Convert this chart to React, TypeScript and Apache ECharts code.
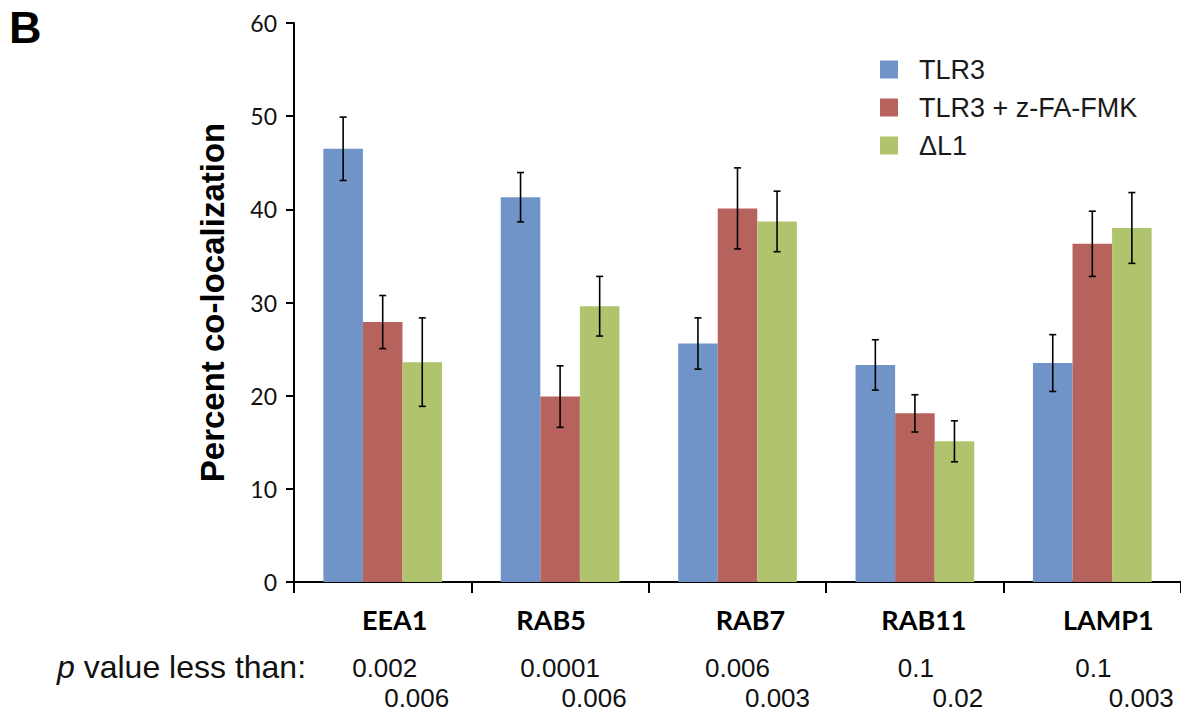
import React, { useEffect, useRef } from "react";
import * as echarts from "echarts";

const categories = ["EEA1", "RAB5", "RAB7", "RAB11", "LAMP1"];
const seriesNames = ["TLR3", "TLR3 + z-FA-FMK", "\u0394L1"];
const tlr3 = [46.5, 41.3, 25.6, 23.3, 23.5];
const tlr3Err = [3.4, 2.65, 2.75, 2.7, 3.05];
const tlr3Fmk = [27.9, 19.9, 40.1, 18.1, 36.3];
const tlr3FmkErr = [2.85, 3.3, 4.35, 2.0, 3.5];
const deltaL1 = [23.6, 29.6, 38.7, 15.1, 38.0];
const deltaL1Err = [4.75, 3.2, 3.25, 2.2, 3.8];
const pValueRow1 = ["0.002", "0.0001", "0.006", "0.1", "0.1"];
const pValueRow2 = ["0.006", "0.006", "0.003", "0.02", "0.003"];
const yTicks = { min: 0, max: 60, interval: 10 };

// layout (not data)
const catLabelShift = [12, -9, 13, 9, 16];
const row1Shift = [2, 0, 0, 1, 1];
const row2Shift = [34, 34, 40, 43, 49];

const colors = ["#7194c8", "#b7635d", "#b0c46d"];
const BAR_FRAC = 0.223;
const CAP = 3.5;

export default function App() {
  const ref = useRef<HTMLDivElement>(null);
  useEffect(() => {
    const el = ref.current!;
    const chart = echarts.init(el, null, { renderer: "svg" });
    const values = [tlr3, tlr3Fmk, deltaL1];
    const errs = [tlr3Err, tlr3FmkErr, deltaL1Err];

    const barSeries = values.map((v, s) => ({
      name: seriesNames[s],
      type: "bar",
      data: v,
      barWidth: BAR_FRAC * 100 + "%",
      barGap: "0%",
      itemStyle: { color: colors[s] },
      z: 2,
    }));
    const errSeries = values.map((v, s) => ({
      name: seriesNames[s] + " err",
      type: "custom",
      z: 5,
      data: v.map((val, i) => [i, val, errs[s][i]]),
      renderItem: (params: any, api: any) => {
        const ci = api.value(0);
        const val = api.value(1);
        const e = api.value(2);
        const band = api.size([1, 0])[0];
        const base = api.coord([ci, val]);
        const x = base[0] + (s - 1) * band * BAR_FRAC;
        const yT = api.coord([ci, val + e])[1];
        const yB = api.coord([ci, val - e])[1];
        const st = { stroke: "#000", lineWidth: 1.6 };
        return {
          type: "group",
          children: [
            { type: "line", shape: { x1: x, y1: yT, x2: x, y2: yB }, style: st },
            { type: "line", shape: { x1: x - CAP, y1: yT, x2: x + CAP, y2: yT }, style: st },
            { type: "line", shape: { x1: x - CAP, y1: yB, x2: x + CAP, y2: yB }, style: st },
          ],
        };
      },
    }));

    chart.setOption({
      animation: false,
      grid: { left: 294, right: -3, top: 23, bottom: 131 },
      legend: {
        data: seriesNames,
        orient: "vertical",
        left: 875,
        top: 51,
        itemWidth: 18,
        itemHeight: 18,
        itemGap: 11,
        icon: "rect",
        textStyle: {
          fontFamily: '"Liberation Sans", Arial, sans-serif',
          fontSize: 27,
          color: "#1a1a1a",
          padding: [0, 0, 0, 16],
        },
      },
      xAxis: {
        type: "category",
        data: categories.map((c, i) => ({
          value: c,
          textStyle: {
            padding: catLabelShift[i] >= 0 ? [0, 0, 0, 2 * catLabelShift[i]] : [0, -2 * catLabelShift[i], 0, 0],
          },
        })),
        axisLine: { show: true, lineStyle: { color: "#000", width: 2 } },
        axisTick: { show: true, inside: false, alignWithLabel: false, interval: 0, length: 11, lineStyle: { color: "#000", width: 2 } },
        axisLabel: {
          interval: 0,
          margin: 24,
          fontFamily: "Lato, sans-serif",
          fontWeight: "bold",
          fontSize: 27,
          color: "#000",
        },
      },
      yAxis: {
        type: "value",
        min: yTicks.min,
        max: yTicks.max,
        interval: yTicks.interval,
        name: "Percent co-localization",
        nameLocation: "middle",
        nameGap: 65,
        nameTextStyle: {
          fontFamily: '"Liberation Sans", Arial, sans-serif',
          fontWeight: "bold",
          fontSize: 33,
          color: "#000",
        },
        axisLine: { show: true, lineStyle: { color: "#000", width: 2 } },
        axisTick: { show: true, inside: false, length: 8, lineStyle: { color: "#000", width: 2 } },
        splitLine: { show: false },
        axisLabel: {
          margin: 17,
          fontFamily: "Lato, sans-serif",
          fontSize: 23,
          color: "#111",
        },
      },
      series: [...barSeries, ...errSeries],
    });

    const font = '26px "Liberation Sans", Arial, sans-serif';
    const graphics: any[] = [
      {
        type: "text",
        x: 9,
        y: 5,
        style: {
          text: "B",
          font: 'bold 45px "Liberation Sans", Arial, sans-serif',
          fill: "#000",
          verticalAlign: "top",
        },
      },
      {
        type: "text",
        x: 57,
        y: 667,
        style: {
          text: "{i|p} value less than:",
          font: '32px "Liberation Sans", Arial, sans-serif',
          fill: "#111",
          verticalAlign: "middle",
          rich: {
            i: { fontStyle: "italic", font: 'italic 32px "Liberation Sans", Arial, sans-serif' },
          },
        },
      },
    ];
    categories.forEach((c, i) => {
      const cx = chart.convertToPixel({ xAxisIndex: 0 }, i) as number;
      graphics.push({
        type: "text",
        x: cx + row1Shift[i],
        y: 668,
        style: { text: pValueRow1[i], font, fill: "#111", align: "center", verticalAlign: "middle" },
      });
      graphics.push({
        type: "text",
        x: cx + row2Shift[i],
        y: 698,
        style: { text: pValueRow2[i], font, fill: "#111", align: "center", verticalAlign: "middle" },
      });
    });
    chart.setOption({ graphic: graphics });

    return () => chart.dispose();
  }, []);
  return (
    <div
      ref={ref}
      style={{ position: "absolute", left: 0, top: 0, width: 1181, height: 713, background: "#fff" }}
    />
  );
}
